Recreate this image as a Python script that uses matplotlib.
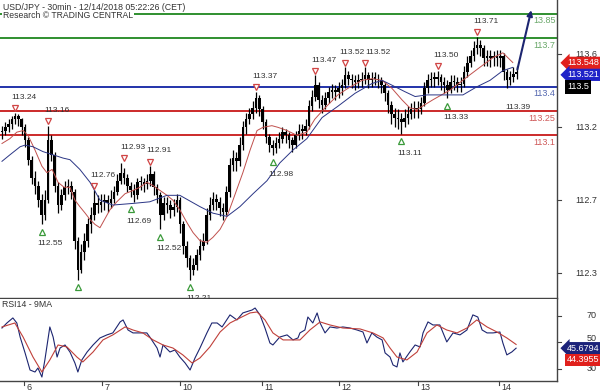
import numpy as np
import matplotlib
matplotlib.use("Agg")
import matplotlib.pyplot as plt
from matplotlib.transforms import blended_transform_factory, ScaledTranslation

plt.rcParams["font.family"] = ["Liberation Sans", "DejaVu Sans"]

# hourly candles (open = previous close)
first_open = 113.12
close = [
    113.13, 113.15, 113.17, 113.20, 113.22, 113.20, 113.15, 113.07, 112.95, 112.84,
    112.79, 112.70, 112.61, 112.70, 113.07, 112.98, 112.79, 112.67, 112.73, 112.78,
    112.79, 112.75, 112.45, 112.27, 112.38, 112.45, 112.55, 112.61, 112.68, 112.67,
    112.69, 112.70, 112.68, 112.71, 112.75, 112.82, 112.87, 112.84, 112.79, 112.76,
    112.73, 112.81, 112.81, 112.80, 112.82, 112.86, 112.78, 112.73, 112.61, 112.68,
    112.67, 112.64, 112.66, 112.70, 112.55, 112.42, 112.34, 112.27, 112.30, 112.36,
    112.42, 112.45, 112.61, 112.67, 112.71, 112.69, 112.65, 112.63, 112.75, 112.92,
    112.96, 112.94, 113.04, 113.15, 113.20, 113.23, 113.27, 113.33, 113.26, 113.18,
    113.09, 113.04, 113.02, 113.05, 113.08, 113.12, 113.10, 113.07, 113.04, 113.10,
    113.13, 113.13, 113.16, 113.28, 113.34, 113.41, 113.32, 113.29, 113.33, 113.37,
    113.38, 113.37, 113.39, 113.41, 113.47, 113.45, 113.44, 113.43, 113.44, 113.45,
    113.47, 113.44, 113.45, 113.45, 113.44, 113.41, 113.36, 113.29, 113.23, 113.21,
    113.20, 113.18, 113.21, 113.23, 113.26, 113.27, 113.26, 113.30, 113.39, 113.44,
    113.45, 113.45, 113.46, 113.43, 113.41, 113.38, 113.43, 113.43, 113.41, 113.42,
    113.49, 113.55, 113.59, 113.64, 113.66, 113.64, 113.58, 113.58, 113.58, 113.58,
    113.58, 113.59, 113.49, 113.44, 113.46, 113.48, 113.49]
high = [
    113.16, 113.18, 113.20, 113.22, 113.24, 113.23, 113.21, 113.17, 113.09, 112.97,
    112.88, 112.82, 112.74, 112.76, 113.16, 113.10, 113.00, 112.81, 112.77, 112.82,
    112.83, 112.82, 112.77, 112.47, 112.43, 112.50, 112.59, 112.66, 112.76, 112.73,
    112.74, 112.74, 112.73, 112.76, 112.79, 112.86, 112.93, 112.90, 112.86, 112.81,
    112.80, 112.84, 112.85, 112.84, 112.86, 112.91, 112.88, 112.80, 112.75, 112.72,
    112.72, 112.70, 112.71, 112.74, 112.72, 112.57, 112.45, 112.36, 112.34, 112.40,
    112.46, 112.50, 112.65, 112.72, 112.75, 112.74, 112.72, 112.68, 112.79, 112.96,
    113.01, 113.00, 113.09, 113.19, 113.24, 113.27, 113.31, 113.37, 113.35, 113.28,
    113.20, 113.11, 113.07, 113.09, 113.12, 113.15, 113.14, 113.12, 113.09, 113.13,
    113.17, 113.17, 113.20, 113.32, 113.38, 113.47, 113.43, 113.35, 113.37, 113.40,
    113.42, 113.41, 113.43, 113.45, 113.52, 113.50, 113.48, 113.47, 113.48, 113.49,
    113.52, 113.49, 113.49, 113.49, 113.48, 113.46, 113.43, 113.38, 113.31, 113.27,
    113.26, 113.24, 113.26, 113.28, 113.30, 113.31, 113.31, 113.34, 113.43, 113.48,
    113.49, 113.49, 113.50, 113.48, 113.46, 113.44, 113.47, 113.47, 113.46, 113.46,
    113.53, 113.59, 113.63, 113.68, 113.71, 113.69, 113.66, 113.63, 113.63, 113.62,
    113.63, 113.63, 113.61, 113.51, 113.50, 113.52, 113.53]
low = [
    113.08, 113.10, 113.12, 113.14, 113.17, 113.16, 113.10, 113.03, 112.92, 112.80,
    112.74, 112.66, 112.55, 112.58, 112.68, 112.94, 112.75, 112.62, 112.64, 112.70,
    112.74, 112.71, 112.40, 112.21, 112.25, 112.33, 112.41, 112.50, 112.58, 112.62,
    112.63, 112.64, 112.63, 112.65, 112.68, 112.73, 112.80, 112.80, 112.75, 112.72,
    112.69, 112.71, 112.76, 112.75, 112.77, 112.79, 112.73, 112.68, 112.52, 112.58,
    112.62, 112.59, 112.60, 112.63, 112.50, 112.37, 112.29, 112.21, 112.24, 112.27,
    112.33, 112.39, 112.43, 112.58, 112.64, 112.64, 112.60, 112.58, 112.61, 112.72,
    112.88, 112.88, 112.91, 113.01, 113.11, 113.17, 113.20, 113.24, 113.22, 113.14,
    113.05, 113.00, 112.98, 112.99, 113.02, 113.05, 113.05, 113.02, 113.00, 113.02,
    113.07, 113.08, 113.10, 113.14, 113.25, 113.31, 113.27, 113.24, 113.26, 113.30,
    113.33, 113.32, 113.33, 113.35, 113.39, 113.41, 113.39, 113.38, 113.39, 113.40,
    113.42, 113.39, 113.40, 113.41, 113.39, 113.36, 113.31, 113.24, 113.17, 113.15,
    113.14, 113.11, 113.15, 113.17, 113.20, 113.21, 113.21, 113.23, 113.28, 113.36,
    113.40, 113.40, 113.41, 113.38, 113.36, 113.33, 113.36, 113.38, 113.37, 113.37,
    113.40, 113.46, 113.52, 113.56, 113.60, 113.59, 113.53, 113.53, 113.52, 113.53,
    113.53, 113.52, 113.44, 113.39, 113.41, 113.43, 113.45]

# moving averages (bar index, price)
ma_fast_x = [0, 2.4, 4.5, 6.4, 7.9, 10, 12.1, 13.6, 15.2, 17, 18.8, 20.6, 22.1, 23.6,
             25.2, 26.7, 28.2, 29.7, 32.7, 34.8, 37.3, 39.7, 41.8, 43.9, 45.8, 47.9,
             50, 51.8, 53.9, 56.1, 57.9, 60, 62.1, 63.9, 66.1, 68.2, 70, 73, 75.2,
             77.3, 79.1, 81.8, 83.6, 86.4, 89.4, 92.4, 94.8, 97.9, 101.8, 104.8, 109.1,
             112.1, 115.2, 118.2, 121.2, 123.6, 125.8, 128.2, 130.6, 135.8, 140.9,
             144.8, 148.8, 151.8, 154.8]
ma_fast_y = [113.05, 113.08, 113.12, 113.13, 113.10, 113.01, 112.91, 112.87, 112.89,
             112.81, 112.78, 112.78, 112.70, 112.66, 112.62, 112.58, 112.55, 112.53,
             112.64, 112.69, 112.74, 112.76, 112.78, 112.81, 112.79, 112.76, 112.73,
             112.70, 112.64, 112.56, 112.50, 112.45, 112.44, 112.47, 112.52, 112.60,
             112.70, 112.87, 113.01, 113.13, 113.15, 113.16, 113.15, 113.13, 113.10,
             113.12, 113.20, 113.27, 113.35, 113.39, 113.44, 113.45, 113.44, 113.39,
             113.32, 113.27, 113.26, 113.29, 113.32, 113.38, 113.46, 113.52, 113.58,
             113.61, 113.55]
ma_slow_x = [0, 2.4, 5.5, 7, 9.4, 12.4, 15.5, 18.5, 20.6, 23.6, 26.7, 29.7, 33.6,
             39.7, 44.8, 50, 53.9, 60, 63.9, 68.2, 72.1, 76.1, 80.3, 84.2, 88.2, 92.4,
             97, 101.8, 107, 112.1, 115.2, 118.2, 122.1, 125.2, 128.8, 139.7, 143.9,
             147.9, 151.8, 154.8]
ma_slow_y = [112.94, 112.98, 113.03, 113.04, 113.03, 113.00, 112.98, 112.96, 112.95,
             112.89, 112.81, 112.70, 112.67, 112.68, 112.69, 112.73, 112.73, 112.66,
             112.62, 112.60, 112.66, 112.74, 112.82, 112.93, 113.01, 113.08, 113.21,
             113.28, 113.36, 113.42, 113.44, 113.41, 113.37, 113.34, 113.35, 113.35,
             113.40, 113.44, 113.50, 113.52]

rsi_x = [0, 1.5, 3.3, 4.5, 5.5, 7, 8.5, 10, 10.9, 12.1, 13, 14.5, 15.5, 16.7, 17.6,
         19.1, 20.6, 22.1, 23, 24.2, 25.8, 27.6, 29.7, 31.8, 33.6, 35.8, 36.7, 38.2,
         39.7, 41.8, 43.9, 44.8, 47, 47.9, 48.8, 50.9, 52.4, 53.9, 55.5, 57, 58.5, 60,
         62.1, 63.6, 65.2, 66.7, 69.1, 71.2, 73, 75.8, 76.7, 78.2, 79.7, 81.2, 82.1,
         84.2, 86.4, 88.2, 89.7, 90.3, 91.8, 92.7, 94.2, 95.5, 96.4, 97.9, 99.4, 101.5,
         103.3, 105.5, 107.6, 109.4, 110.6, 112.1, 113.6, 115.2, 116.1, 117.6, 118.5,
         119.7, 120.6, 121.5, 123.6, 125.2, 126.7, 127.6, 129.1, 130.6, 132.7, 134.8,
         136.7, 138.8, 140.9, 142.7, 144.2, 145.5, 147, 148.8, 150.9, 151.8, 153, 154.5,
         155.8]
rsi_y = [60.9, 64.7, 68.5, 64.7, 54.1, 42.1, 29.2, 27.7, 30.7, 23.9, 36.8, 61.7, 54.1,
         39.0, 45.8, 48.1, 42.8, 34.5, 27.7, 36.8, 42.8, 48.1, 53.4, 55.7, 57.2, 65.5,
         67.0, 59.4, 57.2, 57.2, 57.2, 54.1, 45.8, 39.0, 48.1, 42.8, 44.3, 39.0, 34.5,
         29.2, 38.3, 45.8, 57.2, 64.7, 64.7, 61.7, 70.8, 67.0, 72.3, 74.5, 76.0, 70.8,
         60.9, 49.6, 48.1, 54.1, 55.7, 51.9, 53.4, 57.2, 59.4, 69.2, 64.7, 72.3, 64.7,
         57.2, 61.7, 60.9, 61.7, 60.9, 59.4, 57.9, 49.6, 57.2, 54.1, 51.9, 42.1, 39.0,
         33.0, 31.5, 42.1, 35.3, 42.8, 48.1, 46.6, 57.2, 65.5, 63.2, 63.2, 50.4, 57.2,
         55.7, 59.4, 70.8, 69.2, 59.4, 57.2, 57.2, 57.9, 49.6, 40.6, 42.8, 45.68]
rsi_ma_x = [0, 3.9, 6.4, 9.4, 12.1, 14.5, 17, 19.7, 22.7, 24.5, 27.6, 30.6, 33.6,
            37.3, 39.7, 42.7, 45.8, 48.8, 51.8, 54.8, 57.6, 60, 63, 66.1, 69.1, 72.1,
            75.2, 77.3, 79.7, 82.1, 85.2, 88.2, 90.3, 93.3, 96.4, 99.4, 103.3, 108.5,
            112.4, 115.5, 117.6, 119.7, 122.7, 125.8, 128.8, 131.8, 134.8, 137.9,
            140.9, 143.9, 147, 150, 153, 155.8]
rsi_ma_y = [61.7, 64.7, 54.1, 39.0, 27.7, 36.8, 48.1, 46.6, 39.0, 35.3, 42.8, 51.9,
            55.7, 61.7, 59.4, 57.2, 51.9, 48.1, 45.8, 40.6, 34.5, 38.3, 46.6, 57.9,
            64.7, 68.5, 72.3, 73.0, 67.0, 57.2, 51.9, 51.9, 51.9, 59.4, 65.5, 63.2,
            60.9, 60.2, 57.2, 53.4, 45.8, 39.0, 36.8, 42.8, 57.2, 63.2, 59.4, 57.2,
            60.9, 67.0, 61.7, 57.9, 53.4, 48.5]

day_ticks = [6.7, 30.3, 53.9, 78.8, 102.1, 126.1, 150.6]
day_labels = ["6", "7", "10", "11", "12", "13", "14"]

price_ticks = [113.6, 113.15, 112.7, 112.25]
price_tick_labels = ["113.6", "113.2", "112.7", "112.3"]
rsi_ticks = [70, 50, 30]

levels = [113.85, 113.7, 113.4, 113.25, 113.1]
level_labels = ["13.85", "113.7", "113.4", "113.25", "113.1"]
level_colors = ["#2f8f2f", "#2f8f2f", "#2233aa", "#cc2a2a", "#cc2a2a"]
level_text_colors = ["#6aa86a", "#6aa86a", "#5568b0", "#cf5a5a", "#cf5a5a"]

high_bars = [4, 14, 28, 37, 45, 77, 95, 104, 110, 132, 144]
high_vals = [113.24, 113.16, 112.76, 112.93, 112.91, 113.37, 113.47, 113.52, 113.52, 113.50, 113.71]
high_lab_dx = [-3, -3, -3, -3, -3, -3, -3, -4, 0.5, -3, -3]
low_bars = [12, 23, 39, 48, 57, 82, 121, 135]
low_vals = [112.55, 112.21, 112.69, 112.52, 112.21, 112.98, 113.11, 113.33]
low_shown = [True, False, True, True, True, True, True, True]

C_NAVY = "#1c2570"
C_TXT = "#333333"

fig = plt.figure(figsize=(6, 3.92), dpi=100, facecolor="white")
ax = fig.add_axes([0, 1 - 298 / 392, 557 / 600, 298 / 392])
ax_r = fig.add_axes([0, 1 - 381 / 392, 557 / 600, 82 / 392])

for a in (ax, ax_r):
    for s in ("left", "top"):
        a.spines[s].set_visible(False)
    for s in ("right", "bottom"):
        a.spines[s].set_color("#444444")
        a.spines[s].set_linewidth(1.0)
    a.set_xlim(-0.6, 168.2)
    a.set_yticks([])
    a.set_xticks([])

ax.set_ylim(112.096, 113.936)
ax_r.set_ylim(20.9, 82.8)

# support / resistance levels
for lv, col, lab, tcol in zip(levels, level_colors, level_labels, level_text_colors):
    ax.axhline(lv, color=col, lw=1.4, zorder=1)
    ax.annotate(lab, xy=(1.0, lv), xycoords=("axes fraction", "data"),
                xytext=(-1, -5), textcoords="offset points",
                ha="right", va="center", fontsize=6.5, color=tcol, zorder=2)

# candles
idx = np.arange(len(close))
c = np.array(close)
o = np.r_[first_open, c[:-1]]
ax.vlines(idx, low, high, color="black", lw=0.9, zorder=3)
ax.bar(idx, np.maximum(np.abs(c - o), 0.008), bottom=np.minimum(o, c),
       width=0.8, color="black", zorder=3)

ax.plot(ma_fast_x, ma_fast_y, color="#c0504d", lw=0.7, zorder=4)
ax.plot(ma_slow_x, ma_slow_y, color="#2a3585", lw=0.7, zorder=4)

# pivot highs / lows
up = ax.transData + ScaledTranslation(0, 4.5 / 100, fig.dpi_scale_trans)
down = ax.transData + ScaledTranslation(0, -7.5 / 100, fig.dpi_scale_trans)
for b, v, dx in zip(high_bars, high_vals, high_lab_dx):
    ax.plot(b, v, marker="v", ms=5, mfc="white", mec="#d04545", mew=0.9,
            linestyle="none", transform=up, zorder=5)
    ax.annotate(f"{v:.2f}", xy=(b, v), xytext=(dx, 11), textcoords="offset points",
                ha="left", va="center", fontsize=6, color=C_TXT, zorder=6)
for b, v, show in zip(low_bars, low_vals, low_shown):
    ax.plot(b, v, marker="^", ms=5, mfc="white", mec="#3a9a3a", mew=0.9,
            linestyle="none", transform=down, zorder=5)
    if show:
        ax.annotate(f"{v:.2f}", xy=(b, v), xytext=(-3, -14), textcoords="offset points",
                    ha="left", va="center", fontsize=6, color=C_TXT, zorder=6)
ax.annotate("113.39", xy=(153, 113.39), xytext=(-1, -14), textcoords="offset points",
            ha="left", va="center", fontsize=6, color=C_TXT, zorder=6)

# projection arrow
ax.annotate("", xy=(160.6, 113.89), xytext=(156, 113.49),
            arrowprops=dict(arrowstyle="-|>", color=C_NAVY, lw=1.5, mutation_scale=8),
            zorder=6)

# RSI panel
ax_r.plot(rsi_x, rsi_y, color=C_NAVY, lw=0.8, zorder=3)
ax_r.plot(rsi_ma_x, rsi_ma_y, color="#c0403a", lw=0.8, zorder=4)

# right axis labels
tr_p = blended_transform_factory(fig.transFigure, ax.transData)
tr_r = blended_transform_factory(fig.transFigure, ax_r.transData)
for t, lab in zip(price_ticks, price_tick_labels):
    ax.plot([1.0, 1.008], [t, t], color="#444444", lw=0.8, clip_on=False,
            transform=blended_transform_factory(ax.transAxes, ax.transData))
    ax.text(597 / 600, t, lab, transform=tr_p, ha="right", va="center",
            fontsize=6.5, color=C_TXT, clip_on=False)
for t in rsi_ticks:
    ax_r.plot([1.0, 1.008], [t, t], color="#444444", lw=0.8, clip_on=False,
              transform=blended_transform_factory(ax_r.transAxes, ax_r.transData))
    ax_r.text(597 / 600, t + (3 if t == 50 else 0), str(t), transform=tr_r,
              ha="right", va="center", fontsize=6.5, color=C_TXT, clip_on=False)

# value tags
tags = [(113.548, "113.548", "#e0201c", "larrow,pad=0.18"),
        (113.474, "113.521", "#1f22c8", "larrow,pad=0.18"),
        (113.40, "113.5", "black", "square,pad=0.25")]
for yv, lab, col, bs in tags:
    ax.text(567 / 600, yv, lab, transform=tr_p, ha="left", va="center",
            fontsize=6.5, color="white", clip_on=False, zorder=10,
            bbox=dict(boxstyle=bs, fc=col, ec="none"))
rtags = [(45.68, "45.6794", "#1c237a", "larrow,pad=0.18"),
         (36.8, "44.3955", "#e0201c", "square,pad=0.2")]
for yv, lab, col, bs in rtags:
    ax_r.text(567 / 600, yv, lab, transform=tr_r, ha="left", va="center",
              fontsize=6.5, color="white", clip_on=False, zorder=10,
              bbox=dict(boxstyle=bs, fc=col, ec="none"))

# day ticks
for d, lab in zip(day_ticks, day_labels):
    ax_r.plot([d, d], [0, -0.05], color="#444444", lw=0.8, clip_on=False,
              transform=blended_transform_factory(ax_r.transData, ax_r.transAxes))
    ax_r.annotate(lab, xy=(d, 0), xycoords=("data", "axes fraction"),
                  xytext=(1.5, -5), textcoords="offset points",
                  ha="left", va="center", fontsize=6.5, color=C_TXT,
                  annotation_clip=False)

fig.text(3 / 600, 1 - 7 / 392, "USD/JPY - 30min - 12/14/2018 05:22:26 (CET)",
         ha="left", va="center", fontsize=6.3, color=C_TXT)
fig.text(3 / 600, 1 - 16 / 392, "Research \u00a9 TRADING CENTRAL",
         ha="left", va="center", fontsize=6.2, color=C_TXT,
         bbox=dict(boxstyle="square,pad=0.15", fc="white", ec="none"))
ax_r.text(0.004, 0.93, "RSI14 - 9MA", transform=ax_r.transAxes,
          ha="left", va="center", fontsize=6.3, color=C_TXT)

fig.savefig("out.png", dpi=100, facecolor="white")
